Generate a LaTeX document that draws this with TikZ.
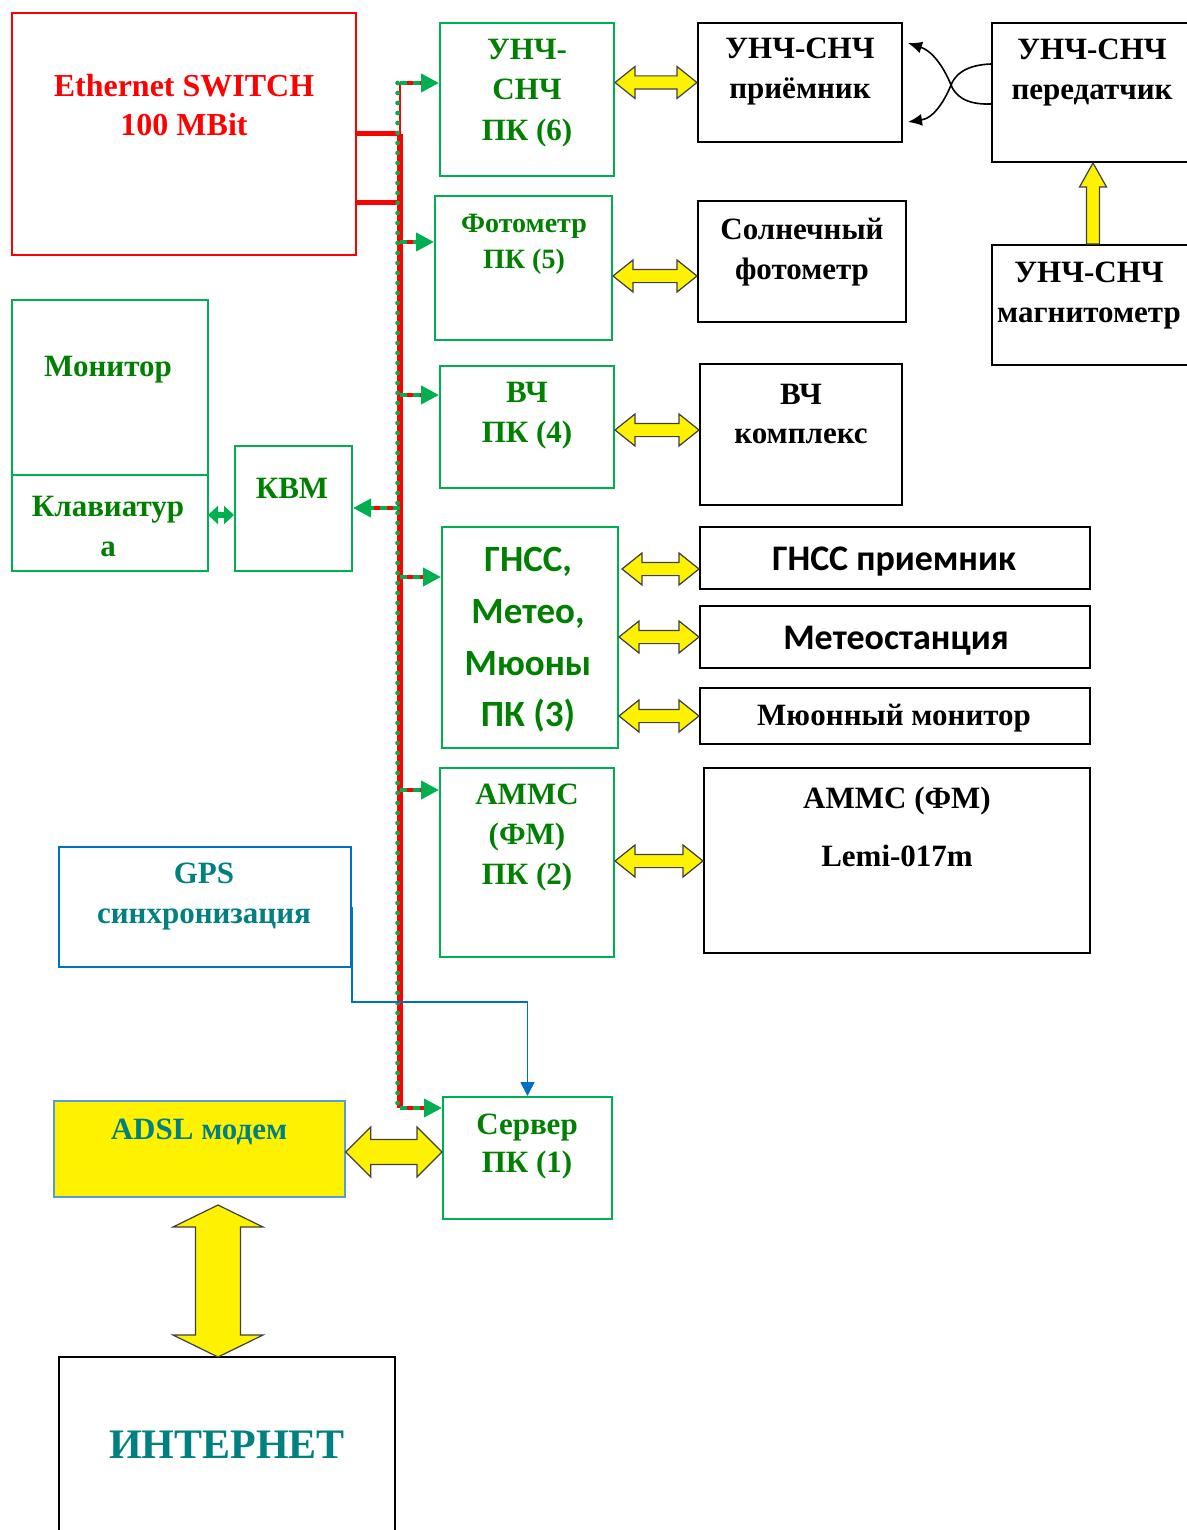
\documentclass[tikz,border=0pt]{standalone}
\usepackage{fontspec}
\setmainfont{Liberation Serif}
\newfontfamily\calfont{Carlito}
\usetikzlibrary{arrows.meta,fit,calc}

\definecolor{netred}{RGB}{255,0,0}
\definecolor{pcgreen}{RGB}{0,176,80}
\definecolor{txtgreen}{RGB}{0,128,0}
\definecolor{tealtxt}{RGB}{0,128,128}
\definecolor{gpsblue}{RGB}{0,112,192}
\definecolor{adslblue}{RGB}{91,155,213}

% horizontal double block arrow: from, to, half shaft, half head, head length
\newcommand{\hblock}[5]{%
  \path[yarrow] let \p1=#1, \p2=#2 in
    (\x1,\y1) -- (\x1+#5,\y1+#4) -- (\x1+#5,\y1+#3) -- (\x2-#5,\y1+#3) -- (\x2-#5,\y1+#4)
    -- (\x2,\y1) -- (\x2-#5,\y1-#4) -- (\x2-#5,\y1-#3) -- (\x1+#5,\y1-#3) -- (\x1+#5,\y1-#4) -- cycle;}
% vertical double block arrow: top, bottom, half shaft, half head, head length
\newcommand{\vblock}[5]{%
  \path[yarrow] let \p1=#1, \p2=#2 in
    (\x1,\y1) -- (\x1+#4,\y1-#5) -- (\x1+#3,\y1-#5) -- (\x1+#3,\y2+#5) -- (\x1+#4,\y2+#5)
    -- (\x1,\y2) -- (\x1-#4,\y2+#5) -- (\x1-#3,\y2+#5) -- (\x1-#3,\y1-#5) -- (\x1-#4,\y1-#5) -- cycle;}
% single block arrow upwards: tail, tip, half shaft, half head, head length
\newcommand{\upblock}[5]{%
  \path[yarrow] let \p1=#1, \p2=#2 in
    (\x1+#3,\y1) -- (\x1+#3,\y2-#5) -- (\x1+#4,\y2-#5) -- (\x1,\y2) -- (\x1-#4,\y2-#5)
    -- (\x1-#3,\y2-#5) -- (\x1-#3,\y1) -- cycle;}

\begin{document}
\begin{tikzpicture}[
    x=0.5pt, y=-0.5pt,
    line join=miter,
    every node/.style={inner sep=0pt, font=\bfseries\fontsize{15.5}{20}\selectfont},
    netbox/.style={draw=netred, line width=0.8pt, inner sep=0pt},
    pcbox/.style={draw=pcgreen, line width=1pt, inner sep=0pt},
    devbox/.style={draw=black, line width=1pt, inner sep=0pt},
    pctext/.style={text=txtgreen, align=center},
    devtext/.style={text=black, align=center},
    tealtext/.style={text=tealtxt, align=center},
    yarrow/.style={draw=black!75, fill=yellow, line width=0.6pt},
    redtap/.style={netred, line width=2pt, shorten >=6pt},
    greentap/.style={pcgreen, line width=2pt, dash pattern=on 3.5pt off 3pt,
      -{Triangle[length=9pt,width=9pt]}},
    gpsline/.style={draw=gpsblue, line width=0.8pt, -{Triangle[length=7pt,width=7pt]}}
]
\useasboundingbox (0,0) rectangle (1187,1530);

% switch
\node[netbox, fit={(12,13)(356,255)}] (sw) {};
\node[text=netred, align=center, font=\bfseries\fontsize{16}{19.5}\selectfont] (sw-t) at (184,105) {Ethernet SWITCH\\100 MBit};

% left side
\node[pcbox, fit={(12,300)(208,475)}] (mon) {};
\node[pctext] (mon-t) at (108,370) {Монитор};
\node[pcbox, fit={(12,475)(208,571)}] (kbd) {};
\node[pctext] (kbd-t) at (108,526) {Клавиатур\\а};
\node[pcbox, fit={(235,446)(352,571)}] (kvm) {};
\node[pctext] (kvm-t) at (292,488) {КВМ};

\node[draw=gpsblue, line width=0.8pt, inner sep=0pt, fit={(59,847)(351,967)}] (gps) {};
\node[tealtext] (gps-t) at (204,897) {GPS\\синхронизация};
\node[draw=adslblue, fill=yellow, line width=0.8pt, inner sep=0pt, fit={(54,1101)(345,1197)}] (adsl) {};
\node[tealtext] (adsl-t) at (199,1132) {ADSL модем};
\node[devbox, fit={(59,1357)(395,1545)}] (inet) {};
\node[tealtext, font=\bfseries\fontsize{21}{24}\selectfont] (inet-t) at (227,1445) {ИНТЕРНЕТ};

% computers
\node[pcbox, fit={(440,23)(614,176)}] (pc6) {};
\node[pctext, font=\bfseries\fontsize{15.5}{20.25}\selectfont] (pc6-t) at (527,93) {УНЧ-\\СНЧ\\ПК (6)};
\node[pcbox, fit={(435,196)(612,340)}] (pc5) {};
\node[pctext, font=\bfseries\fontsize{14}{18}\selectfont] (pc5-t) at (524,244) {Фотометр\\ПК (5)};
\node[pcbox, fit={(440,366)(614,488)}] (pc4) {};
\node[pctext] (pc4-t) at (527,416) {ВЧ\\ПК (4)};
\node[pcbox, fit={(442,527)(618,748)}] (pc3) {};
\node[pctext, font=\calfont\bfseries\fontsize{18.5}{25.8}\selectfont] (pc3-t) at (528,640) {ГНСС,\\Метео,\\Мюоны\\ПК (3)};
\node[pcbox, fit={(440,768)(614,957)}] (pc2) {};
\node[pctext] (pc2-t) at (527,838) {АММС\\(ФМ)\\ПК (2)};
\node[pcbox, fit={(443,1097)(612,1219)}] (pc1) {};
\node[pctext, font=\bfseries\fontsize{15.5}{19}\selectfont] (pc1-t) at (527,1147) {Сервер\\ПК (1)};

% devices
\node[devbox, fit={(698,23)(902,142)}] (rx) {};
\node[devtext] (rx-t) at (800,72) {УНЧ-СНЧ\\приёмник};
\node[devbox, fit={(992,23)(1200,162)}] (tx) {};
\node[devtext] (tx-t) at (1092,73) {УНЧ-СНЧ\\передатчик};
\node[devbox, fit={(992,245)(1200,365)}] (mag) {};
\node[devtext] (mag-t) at (1089,296) {УНЧ-СНЧ\\магнитометр};
\node[devbox, fit={(698,201)(906,322)}] (sun) {};
\node[devtext] (sun-t) at (802,252) {Солнечный\\фотометр};
\node[devbox, fit={(700,364)(902,505)}] (hf) {};
\node[devtext] (hf-t) at (801,414) {ВЧ\\комплекс};
\node[devbox, fit={(700,527)(1090,589)}] (gnss) {};
\node[devtext, font=\calfont\bfseries\fontsize{18}{22}\selectfont] (gnss-t) at (894,562) {ГНСС приемник};
\node[devbox, fit={(700,606)(1090,668)}] (meteo) {};
\node[devtext, font=\calfont\bfseries\fontsize{18}{22}\selectfont] (meteo-t) at (896,641) {Метеостанция};
\node[devbox, fit={(700,688)(1090,744)}] (muon) {};
\node[devtext] (muon-t) at (894,718) {Мюонный монитор};
\node[devbox, fit={(704,768)(1090,953)}] (amms) {};
\node[devtext, font=\bfseries\fontsize{15.5}{29}\selectfont] (amms-t) at (897,827) {АММС (ФМ)\\Lemi-017m};

% ethernet bus
\coordinate (bustop) at (400,83);
\coordinate (busmid) at (400,134);
\coordinate (busbot) at (400,1108);
\draw[netred, line width=1.2pt] (bustop) -- (busmid);
\draw[netred, line width=3pt] (busmid) -- (busbot);
\draw[netred, line width=2.5pt] (sw.east) -- (busmid);
\draw[netred, line width=2.5pt] ($(sw.east)+(0,69)$) -- ($(busmid)+(0,69)$);
\draw[pcgreen, line width=2.4pt, line cap=round, dash pattern=on 0pt off 5pt]
  ([xshift=-1.2pt]bustop) -- ([xshift=-1.2pt]busbot);

\foreach \n/\y in {6/83,5/242,4/395,3/577,2/790,1/1108} {
  \coordinate (t\n) at (400,\y);
  \draw[redtap] (t\n) -- (t\n -| pc\n.west);
  \draw[greentap] (t\n) -- (t\n -| pc\n.west);
}
\coordinate (tk) at (400,508);
\draw[redtap] (tk) -- (tk -| kvm.east);
\draw[greentap] (tk) -- (tk -| kvm.east);

\coordinate (kk) at (208,515);
\draw[pcgreen, line width=3pt, {Triangle[length=5pt,width=9pt]}-{Triangle[length=5pt,width=9pt]}]
  (kk) -- (kk -| kvm.west);

% gps time line
\draw[gpsline] (gps.east) -- ++(0,95) -| (pc1.north);

% yellow links
\hblock{(pc6.east |- rx.west)}{(rx.west)}{3.3pt}{8pt}{10pt}
\hblock{(pc5.east |- 0,276)}{(sun.west |- 0,276)}{3.3pt}{8pt}{10pt}
\hblock{(pc4.east |- 0,430)}{(hf.west |- 0,430)}{3.3pt}{8pt}{10pt}
\hblock{(622,569)}{(gnss.west |- 0,569)}{3.3pt}{8pt}{10pt}
\hblock{(pc3.east |- meteo.west)}{(meteo.west)}{3.3pt}{8pt}{10pt}
\hblock{(pc3.east |- muon.west)}{(muon.west)}{3.3pt}{8pt}{10pt}
\hblock{(pc2.east |- 0,861)}{(amms.west |- 0,861)}{3.3pt}{8pt}{10pt}
\hblock{(adsl.east |- 0,1152)}{(pc1.west |- 0,1152)}{6.25pt}{12.5pt}{12.5pt}
\vblock{(218,1205)}{(218,1357)}{11.25pt}{22.5pt}{11pt}
\upblock{(mag.north -| 1093,0)}{(tx.south -| 1093,0)}{3.25pt}{6.75pt}{12pt}

% crossed links receiver / transmitter
\draw[line width=0.8pt, -{Latex[length=7pt,width=6pt]}]
  ($(tx.north west)+(0,42)$) .. controls (965,65) and (955,75) .. (951,85)
  .. controls (946,97.5) and (935,118) .. ($(rx.north east)+(5,100)$);
\draw[line width=0.8pt, -{Latex[length=7pt,width=6pt]}]
  ($(tx.north west)+(0,82)$) .. controls (965,105) and (955,95) .. (951,85)
  .. controls (946,72.5) and (935,52) .. ($(rx.north east)+(5,21)$);
\end{tikzpicture}
\end{document}
